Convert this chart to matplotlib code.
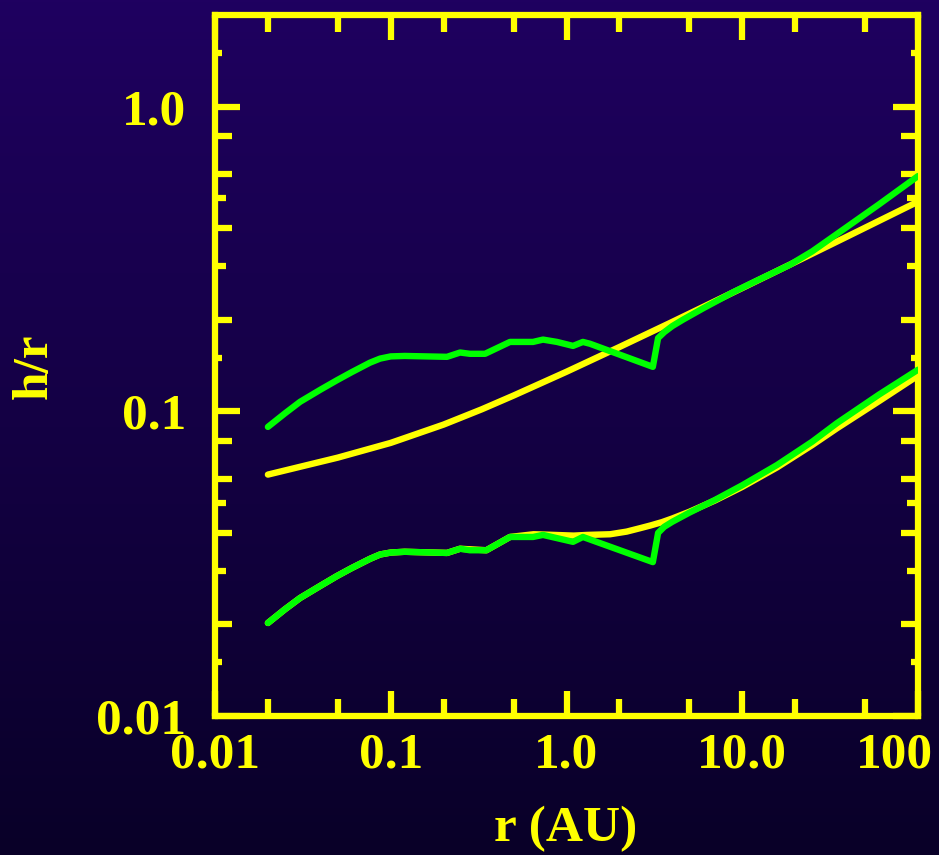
import numpy as np
import matplotlib
matplotlib.use("Agg")
import matplotlib.pyplot as plt
from matplotlib.ticker import FixedLocator, NullFormatter, NullLocator
import matplotlib.transforms as mtransforms

plt.rcParams['font.family'] = ['Liberation Serif', 'DejaVu Serif']
plt.rcParams['font.weight'] = 'bold'

yellow = '#FFFF00'
green = '#00FF00'

# upper curves (h/r at disc surface)
r_up_y = [0.02, 0.05, 0.1, 0.2, 0.33, 0.5, 1.0, 2.0, 3.88, 10.0, 20.0, 40.0, 100.0]
hr_up_y = [0.062, 0.0705, 0.0788, 0.0905, 0.1016, 0.1127, 0.1349, 0.1626, 0.195, 0.254, 0.309, 0.376, 0.488]

r_up_g = [0.02, 0.025, 0.0305, 0.04, 0.0494, 0.06, 0.0762, 0.087, 0.1, 0.12, 0.209, 0.248, 0.282, 0.344, 0.477,
          0.645, 0.735, 0.883, 1.089, 1.24, 1.36, 3.10, 3.32, 3.6, 4.0, 4.6, 6.0, 8.86, 12.0, 15.0,
          18.7, 25.0, 32.8, 60.0, 100.0]
hr_up_g = [0.0889, 0.0985, 0.1075, 0.118, 0.1265, 0.1345, 0.1445, 0.149, 0.1515, 0.152, 0.151, 0.156, 0.1545,
           0.1545, 0.169, 0.169, 0.172, 0.169, 0.164, 0.169, 0.1667, 0.140, 0.174, 0.182, 0.1905, 0.2, 0.218,
           0.246, 0.268, 0.285, 0.303, 0.335, 0.374, 0.478, 0.592]

# lower curves
r_lo_y = [0.02, 0.025, 0.0305, 0.04, 0.0494, 0.06, 0.0762, 0.087, 0.1, 0.12, 0.209, 0.248, 0.35, 0.477, 0.65,
          0.75, 1.1, 1.31, 1.77, 2.2, 2.6, 3.0, 3.5, 4.0, 5.0, 7.0, 10.0, 15.8, 25.0, 34.6, 60.0, 100.0]
hr_lo_y = [0.0202, 0.0224, 0.0244, 0.0268, 0.0288, 0.0306, 0.0328, 0.0339, 0.0344, 0.0346, 0.0343, 0.0354,
           0.035, 0.0387, 0.0395, 0.0394, 0.0391, 0.0393, 0.0395, 0.0403, 0.0413, 0.0422, 0.0433, 0.0445,
           0.0468, 0.051, 0.0565, 0.0655, 0.0775, 0.088, 0.108, 0.131]

r_lo_g = [0.02, 0.025, 0.0305, 0.04, 0.0494, 0.06, 0.0762, 0.087, 0.1, 0.12, 0.209, 0.248, 0.282, 0.35, 0.477,
          0.645, 0.735, 1.089, 1.24, 3.10, 3.32, 3.6, 4.0, 5.0, 7.0, 10.0, 15.8, 25.0, 34.6, 60.0, 100.0]
hr_lo_g = [0.0202, 0.0224, 0.0244, 0.0268, 0.0288, 0.0306, 0.0328, 0.0339, 0.0344, 0.0346, 0.0343, 0.0354,
           0.035, 0.035, 0.0387, 0.0387, 0.0393, 0.0373, 0.0387, 0.032, 0.0399, 0.0418, 0.0434, 0.0465,
           0.0512, 0.0572, 0.0667, 0.0795, 0.0915, 0.1135, 0.137]

xmajor = [0.01, 0.1, 1.0, 10.0, 100.0]
xlabels = ['0.01', '0.1', '1.0', '10.0', '100']
xminor = [0.02, 0.05, 0.2, 0.5, 2, 5, 20, 50]
ymajor = [0.01, 0.1, 1.0]
ylabels = ['0.01', '0.1', '1.0']
ymid = [0.02, 0.04, 0.06, 0.08, 0.2, 0.4, 0.6, 0.8]
yshort = [0.03, 0.05, 0.3, 0.5]
yshorter = [0.015, 0.15, 1.5]

W, H = 939, 855
fig = plt.figure(figsize=(W / 100, H / 100), dpi=100)

# gradient background
bg = fig.add_axes([0, 0, 1, 1], zorder=-10)
top = np.array([31, 0, 96]) / 255.
bot = np.array([9, 0, 40]) / 255.
t = np.linspace(0, 1, 256)[:, None]
grad = (top[None, :] * (1 - t) + bot[None, :] * t)[:, None, :]
bg.imshow(grad, aspect='auto', extent=[0, 1, 0, 1])
bg.axis('off')

pos = [215 / W, 1 - 716 / H, (918 - 215) / W, (716 - 15) / H]
ax = fig.add_axes(pos)
ax.set_facecolor('none')
ax.set_xscale('log')
ax.set_yscale('log')
ax.set_xlim(0.01, 100)
ax.set_ylim(0.01, 2.0)

lw = 4.6
kw = dict(lw=lw, solid_capstyle='round', solid_joinstyle='round')
ax.plot(r_up_y, hr_up_y, color=yellow, zorder=3, **kw)
ax.plot(r_lo_y, hr_lo_y, color=yellow, zorder=3, **kw)
ax.plot(r_up_g, hr_up_g, color=green, zorder=4, **kw)
ax.plot(r_lo_g, hr_lo_g, color=green, zorder=4, **kw)

for s in ax.spines.values():
    s.set_color(yellow)
    s.set_linewidth(4.5)

ax.xaxis.set_major_locator(FixedLocator(xmajor))
ax.xaxis.set_minor_locator(FixedLocator(xminor))
ax.xaxis.set_minor_formatter(NullFormatter())
ax.set_xticklabels(xlabels)
ax.yaxis.set_major_locator(FixedLocator(ymajor))
ax.yaxis.set_minor_locator(FixedLocator(ymid))
ax.yaxis.set_minor_formatter(NullFormatter())
ax.set_yticklabels(ylabels)

ax.tick_params(which='both', direction='in', color=yellow, width=4.5,
               top=True, right=True, labelcolor=yellow, labelsize=37)
ax.tick_params(which='major', length=18)
ax.tick_params(which='minor', length=12)
ax.tick_params(axis='x', which='major', pad=12)
ax.tick_params(axis='y', which='major', pad=21)

# shorter y ticks drawn on overlay axes
for locs, ln in [(yshort, 8), (yshorter, 5)]:
    ov = fig.add_axes(pos)
    ov.set_facecolor('none')
    ov.set_xscale('log')
    ov.set_yscale('log')
    ov.set_xlim(0.01, 100)
    ov.set_ylim(0.01, 2.0)
    for s in ov.spines.values():
        s.set_visible(False)
    ov.xaxis.set_major_locator(NullLocator())
    ov.xaxis.set_minor_locator(NullLocator())
    ov.yaxis.set_major_locator(FixedLocator(locs))
    ov.yaxis.set_minor_locator(NullLocator())
    ov.yaxis.set_major_formatter(NullFormatter())
    ov.tick_params(axis='y', direction='in', color=yellow, width=4.5, length=ln,
                   left=True, right=True)

# last x label is shifted left so it stays inside the picture
lab = ax.xaxis.get_major_ticks()[-1].label1
lab.set_transform(lab.get_transform() + mtransforms.ScaledTranslation(-24 / 100, 0, fig.dpi_scale_trans))

fig.text(566 / W, 1 - 806 / H, 'r (AU)', color=yellow, fontsize=37, fontweight='bold',
         ha='center', va='top')
fig.text(35 / W, 1 - 366 / H, 'h/r', color=yellow, fontsize=37, fontweight='bold',
         ha='center', va='center', rotation=90)

fig.savefig('out.png', dpi=100)
